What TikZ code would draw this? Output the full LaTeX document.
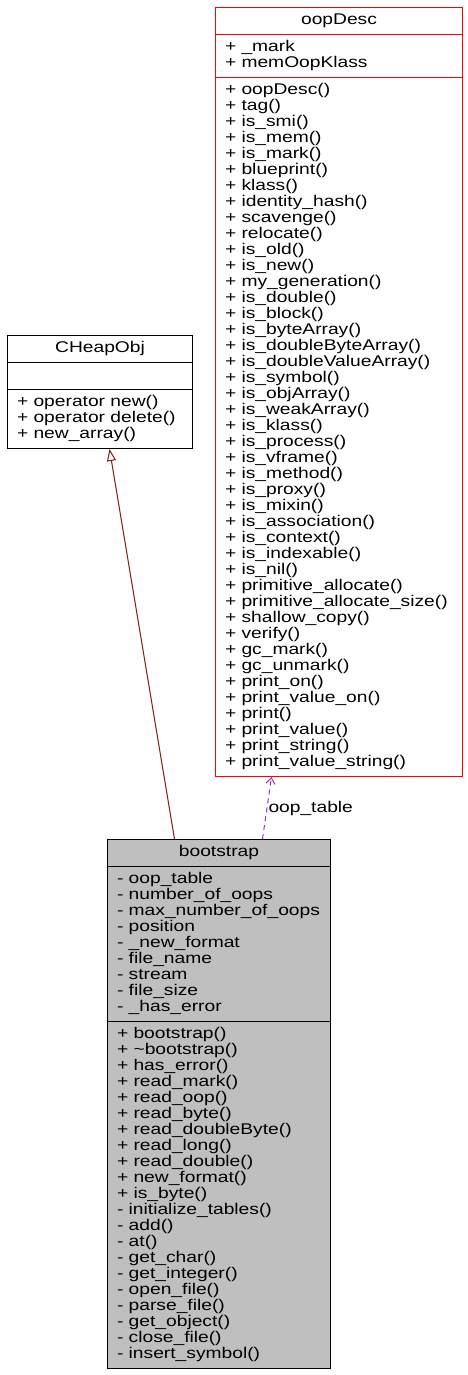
\documentclass[tikz,border=0pt]{standalone}
\usepackage{fontspec}
\setmainfont[FakeStretch=1.24]{Liberation Sans}
\usetikzlibrary{arrows.meta,shapes.multipart}
\definecolor{inhred}{HTML}{8B1A1A}
\definecolor{usepurple}{HTML}{9A32CD}
\definecolor{boxgray}{HTML}{BFBFBF}
% one member line, always 16pt high
\newcommand{\mem}[1]{#1\rule[-4.4pt]{0pt}{16pt}}

\begin{document}
\begin{tikzpicture}[
  x=1pt, y=1pt, line width=1pt,
  umlclass/.style={rectangle split, rectangle split parts=3, draw=black,
    rectangle split part align={center,left,left}, align=left,
    inner xsep=9.5pt, inner ysep=5pt, anchor=north west,
    font=\fontsize{15.5}{16}\selectfont},
  refclass/.style={umlclass, draw=red, fill=white},
  baseclass/.style={umlclass, fill=white},
  mainclass/.style={umlclass, fill=boxgray},
  inherit/.style={-{Triangle[open, length=12pt, width=9pt]}, draw=inhred},
  uses/.style={-{Straight Barb[length=6pt, width=9pt]}, draw=usepurple,
    dash pattern=on 5pt off 4pt},
  uselabel/.style={font=\fontsize{15.5}{16}\selectfont, inner sep=1pt}
]
  \useasboundingbox (0,0) rectangle (468,-1375);

  % referenced class
  \node[refclass, minimum width=247pt] (oopdesc) at (215,-7) {%
    \mem{oopDesc}
    \nodepart{second}
    \mem{+ \_mark}\\\mem{+ memOopKlass}
    \nodepart{third}
    \mem{+ oopDesc()}\\\mem{+ tag()}\\\mem{+ is\_smi()}\\\mem{+ is\_mem()}\\
    \mem{+ is\_mark()}\\\mem{+ blueprint()}\\\mem{+ klass()}\\
    \mem{+ identity\_hash()}\\\mem{+ scavenge()}\\\mem{+ relocate()}\\
    \mem{+ is\_old()}\\\mem{+ is\_new()}\\\mem{+ my\_generation()}\\
    \mem{+ is\_double()}\\\mem{+ is\_block()}\\\mem{+ is\_byteArray()}\\
    \mem{+ is\_doubleByteArray()}\\\mem{+ is\_doubleValueArray()}\\
    \mem{+ is\_symbol()}\\\mem{+ is\_objArray()}\\\mem{+ is\_weakArray()}\\
    \mem{+ is\_klass()}\\\mem{+ is\_process()}\\\mem{+ is\_vframe()}\\
    \mem{+ is\_method()}\\\mem{+ is\_proxy()}\\\mem{+ is\_mixin()}\\
    \mem{+ is\_association()}\\\mem{+ is\_context()}\\\mem{+ is\_indexable()}\\
    \mem{+ is\_nil()}\\\mem{+ primitive\_allocate()}\\
    \mem{+ primitive\_allocate\_size()}\\\mem{+ shallow\_copy()}\\
    \mem{+ verify()}\\\mem{+ gc\_mark()}\\\mem{+ gc\_unmark()}\\
    \mem{+ print\_on()}\\\mem{+ print\_value\_on()}\\\mem{+ print()}\\
    \mem{+ print\_value()}\\\mem{+ print\_string()}\\
    \mem{+ print\_value\_string()}};

  % base class
  \node[baseclass, minimum width=185pt] (cheapobj) at (7,-335) {%
    \mem{CHeapObj}
    \nodepart{second}
    \mem{}
    \nodepart{third}
    \mem{+ operator new()}\\\mem{+ operator delete()}\\\mem{+ new\_array()}};

  % the class itself
  \node[mainclass, minimum width=223pt] (bootstrap) at (107,-839) {%
    \mem{bootstrap}
    \nodepart{second}
    \mem{- oop\_table}\\\mem{- number\_of\_oops}\\\mem{- max\_number\_of\_oops}\\
    \mem{- position}\\\mem{- \_new\_format}\\\mem{- file\_name}\\
    \mem{- stream}\\\mem{- file\_size}\\\mem{- \_has\_error}
    \nodepart{third}
    \mem{+ bootstrap()}\\\mem{+ \textasciitilde bootstrap()}\\\mem{+ has\_error()}\\
    \mem{+ read\_mark()}\\\mem{+ read\_oop()}\\\mem{+ read\_byte()}\\
    \mem{+ read\_doubleByte()}\\\mem{+ read\_long()}\\\mem{+ read\_double()}\\
    \mem{+ new\_format()}\\\mem{+ is\_byte()}\\\mem{- initialize\_tables()}\\
    \mem{- add()}\\\mem{- at()}\\\mem{- get\_char()}\\\mem{- get\_integer()}\\
    \mem{- open\_file()}\\\mem{- parse\_file()}\\\mem{- get\_object()}\\
    \mem{- close\_file()}\\\mem{- insert\_symbol()}};

  % connectors
  \draw[inherit] ([xshift=-44.5pt]bootstrap.north) -- ([xshift=9.5pt]cheapobj.south);
  \draw[uses] ([xshift=43.5pt]bootstrap.north) -- ([xshift=-67.5pt]oopdesc.south)
    node[uselabel, pos=0.5, anchor=west] (tablelabel) {oop\_table};
\end{tikzpicture}
\end{document}
